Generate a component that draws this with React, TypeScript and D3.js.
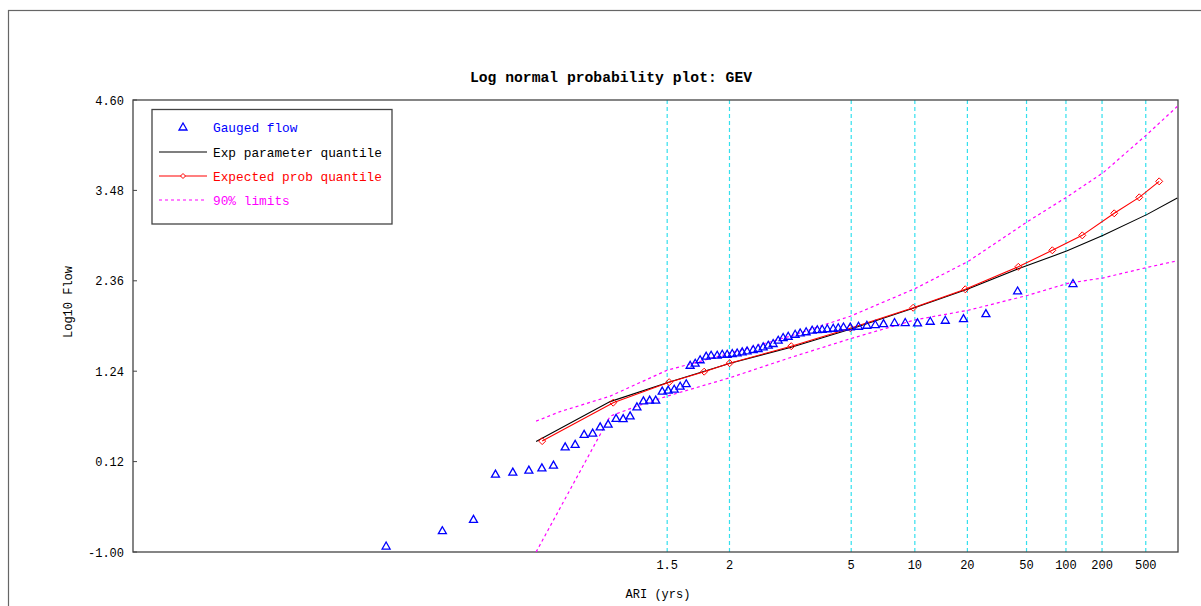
import React from "react";
import * as d3 from "d3";

// ---- data (x as standard normal variate of plotting position, y as log10 flow) ----
const gaugedZ = [-2.374,-1.985,-1.770,-1.618,-1.498,-1.387,-1.297,-1.217,-1.136,-1.067,-1.005,-0.946,-0.894,-0.839,-0.784,-0.735,-0.687,-0.640,-0.595,-0.552,-0.510,-0.465,-0.424,-0.382,-0.341,-0.299,-0.272,-0.237,-0.203,-0.161,-0.127,-0.085,-0.050,-0.016,0.019,0.053,0.088,0.122,0.164,0.198,0.233,0.268,0.302,0.337,0.371,0.406,0.454,0.489,0.530,0.572,0.607,0.641,0.676,0.717,0.752,0.788,0.835,0.892,0.950,1.008,1.065,1.141,1.215,1.300,1.388,1.492,1.618,1.773,1.992,2.375];
const gaugedLogQ = [-0.926,-0.736,-0.595,-0.035,-0.010,0.015,0.043,0.077,0.303,0.333,0.457,0.473,0.551,0.584,0.655,0.652,0.687,0.798,0.873,0.881,0.881,0.993,1.005,1.017,1.054,1.085,1.314,1.339,1.382,1.426,1.438,1.438,1.450,1.450,1.459,1.466,1.479,1.491,1.509,1.521,1.541,1.562,1.583,1.624,1.657,1.673,1.698,1.714,1.729,1.748,1.754,1.760,1.766,1.772,1.778,1.788,1.788,1.797,1.809,1.818,1.830,1.843,1.843,1.838,1.859,1.871,1.892,1.954,2.234,2.326];

const expParamZ = [-1.337,-0.825,-0.431,0.005,0.427,0.835,1.270,1.644,1.997,2.335,2.584,2.888,3.096];
const expParamQ = [0.368,0.863,1.098,1.339,1.537,1.760,2.020,2.255,2.509,2.731,2.923,3.183,3.387];

const expProbZ = [-1.295,-0.804,-0.417,-0.175,0.001,0.427,0.835,1.270,1.630,1.997,2.232,2.439,2.660,2.833,2.971];
const expProbQ = [0.374,0.850,1.104,1.234,1.339,1.550,1.772,2.026,2.255,2.533,2.738,2.923,3.196,3.394,3.592];

const upperZ = [-1.337,-1.171,-0.825,-0.431,0.005,0.418,0.835,1.284,1.651,2.064,2.340,2.586,2.891,3.096];
const upperQ = [0.621,0.739,0.931,1.252,1.463,1.673,1.921,2.264,2.601,3.097,3.406,3.703,4.180,4.520];

const lowerZ = [-1.337,-0.825,-0.640,-0.431,0.005,0.418,0.835,1.284,1.651,2.064,2.340,2.586,2.891,3.096];
const lowerQ = [-1.000,0.683,0.807,0.931,1.160,1.407,1.642,1.877,1.995,2.181,2.329,2.397,2.527,2.608];

const ariTicks = [1.5, 2, 5, 10, 20, 50, 100, 200, 500];
const yTicks = [-1.0, 0.12, 1.24, 2.36, 3.48, 4.6];

const legendLabels = ["Gauged flow", "Exp parameter quantile", "Expected prob quantile", "90% limits"];

// inverse standard normal CDF (Acklam)
function invNorm(p: number): number {
  const a = [-3.969683028665376e1, 2.209460984245205e2, -2.759285104469687e2, 1.38357751867269e2, -3.066479806614716e1, 2.506628277459239];
  const b = [-5.447609879822406e1, 1.615858368580409e2, -1.556989798598866e2, 6.680131188771972e1, -1.328068155288572e1];
  const c = [-7.784894002430293e-3, -3.223964580411365e-1, -2.400758277161838, -2.549732539343734, 4.374664141464968, 2.938163982698783];
  const d = [7.784695709041462e-3, 3.224671290700398e-1, 2.445134137142996, 3.754408661907416];
  const pl = 0.02425, ph = 1 - pl;
  if (p < pl) {
    const q = Math.sqrt(-2 * Math.log(p));
    return (((((c[0]*q+c[1])*q+c[2])*q+c[3])*q+c[4])*q+c[5]) / ((((d[0]*q+d[1])*q+d[2])*q+d[3])*q+1);
  }
  if (p <= ph) {
    const q = p - 0.5, r = q * q;
    return (((((a[0]*r+a[1])*r+a[2])*r+a[3])*r+a[4])*r+a[5])*q / (((((b[0]*r+b[1])*r+b[2])*r+b[3])*r+b[4])*r+1);
  }
  const q = Math.sqrt(-2 * Math.log(1 - p));
  return -(((((c[0]*q+c[1])*q+c[2])*q+c[3])*q+c[4])*q+c[5]) / ((((d[0]*q+d[1])*q+d[2])*q+d[3])*q+1);
}
const ariToZ = (ari: number) => invNorm(1 - 1 / ari);

const FONT = "'Liberation Mono', 'Courier New', monospace";
const BLUE = "#0000ff";
const RED = "#ff0000";
const MAGENTA = "#ff00ff";
const CYAN = "#33e0ee";

export default function App() {
  const left = 133, right = 1178, top = 100, bottom = 552;
  const x = d3.scaleLinear().domain([-4.124, 3.101]).range([left, right]);
  const y = d3.scaleLinear().domain([-1, 4.6]).range([bottom, top]);

  const line = d3.line<[number, number]>().x((d) => x(d[0])).y((d) => y(d[1]));
  const pts = (zs: number[], qs: number[]) => zs.map((z, i) => [z, qs[i]] as [number, number]);

  const tri = "M0,-4L-4,3L4,3Z";
  const dia = "M0,-3.5L3.5,0L0,3.5L-3.5,0Z";

  return (
    <svg
      width={1201}
      height={606}
      style={{ position: "absolute", left: 0, top: 0, background: "#fff" }}
    >
      <defs>
        <clipPath id="plotClip">
          <rect x={left} y={top} width={right - left} height={bottom - top} />
        </clipPath>
      </defs>
      <rect x={0} y={0} width={1201} height={606} fill="#fff" />
      {/* outer frame */}
      <rect x={8.5} y={10.5} width={1210} height={610} fill="none" stroke="#666" strokeWidth={1.2} />

      {/* title */}
      <text x={611} y={82} textAnchor="middle" fontFamily={FONT} fontSize={14.7} fontWeight="bold" fill="#000">
        Log normal probability plot: GEV
      </text>

      {/* gridlines */}
      {ariTicks.map((t) => (
        <line key={"g" + t} x1={x(ariToZ(t))} x2={x(ariToZ(t))} y1={top} y2={bottom}
          stroke={CYAN} strokeWidth={1.2} strokeDasharray="4,3" />
      ))}

      {/* plot box */}
      <rect x={left} y={top} width={right - left} height={bottom - top} fill="none" stroke="#444" strokeWidth={1.3} />

      {/* y ticks */}
      {yTicks.map((t) => (
        <g key={"y" + t}>
          <line x1={left} x2={left + 4} y1={y(t)} y2={y(t)} stroke="#444" strokeWidth={1} />
          <text x={124} y={y(t) + 4.5} textAnchor="end" fontFamily={FONT} fontSize={12} fill="#000">
            {t.toFixed(2)}
          </text>
        </g>
      ))}
      {/* x tick labels */}
      {ariTicks.map((t) => (
        <text key={"x" + t} x={x(ariToZ(t))} y={569} textAnchor="middle" fontFamily={FONT} fontSize={12} fill="#000">
          {String(t)}
        </text>
      ))}

      {/* axis titles */}
      <text x={658} y={598} textAnchor="middle" fontFamily={FONT} fontSize={12} fill="#000">ARI (yrs)</text>
      <text transform="translate(72,302) rotate(-90)" textAnchor="middle" fontFamily={FONT} fontSize={12} fill="#000">Log10 Flow</text>

      <g clipPath="url(#plotClip)">
        {/* 90% limits */}
        <path d={line(pts(upperZ, upperQ)) || ""} fill="none" stroke={MAGENTA} strokeWidth={1.2} strokeDasharray="3,3" />
        <path d={line(pts(lowerZ, lowerQ)) || ""} fill="none" stroke={MAGENTA} strokeWidth={1.2} strokeDasharray="3,3" />
        {/* exp parameter quantile */}
        <path d={line(pts(expParamZ, expParamQ)) || ""} fill="none" stroke="#000" strokeWidth={1.1} />
        {/* expected prob quantile */}
        <path d={line(pts(expProbZ, expProbQ)) || ""} fill="none" stroke={RED} strokeWidth={1.1} />
        {expProbZ.map((z, i) => (
          <path key={"d" + i} d={dia} transform={`translate(${x(z)},${y(expProbQ[i])})`} fill="none" stroke={RED} strokeWidth={1} />
        ))}
        {/* gauged flow */}
        {gaugedZ.map((z, i) => (
          <path key={"t" + i} d={tri} transform={`translate(${x(z)},${y(gaugedLogQ[i])})`} fill="none" stroke={BLUE} strokeWidth={1.3} />
        ))}
      </g>

      {/* legend */}
      <rect x={152} y={109.5} width={240} height={114.5} fill="#fff" stroke="#444" strokeWidth={1.3} />
      <path d={tri} transform="translate(183,127)" fill="none" stroke={BLUE} strokeWidth={1.3} />
      <text x={213} y={132} fontFamily={FONT} fontSize={12.8} fill={BLUE}>{legendLabels[0]}</text>
      <line x1={159} x2={207} y1={152} y2={152} stroke="#000" strokeWidth={1.1} />
      <text x={213} y={157} fontFamily={FONT} fontSize={12.8} fill="#000">{legendLabels[1]}</text>
      <line x1={159} x2={207} y1={176} y2={176} stroke={RED} strokeWidth={1.1} />
      <path d="M0,-2.5L2.5,0L0,2.5L-2.5,0Z" transform="translate(183,176)" fill="#fff" stroke={RED} strokeWidth={1} />
      <text x={213} y={181} fontFamily={FONT} fontSize={12.8} fill={RED}>{legendLabels[2]}</text>
      <line x1={159} x2={207} y1={200} y2={200} stroke={MAGENTA} strokeWidth={1.2} strokeDasharray="3,3" />
      <text x={213} y={205} fontFamily={FONT} fontSize={12.8} fill={MAGENTA}>{legendLabels[3]}</text>
    </svg>
  );
}
